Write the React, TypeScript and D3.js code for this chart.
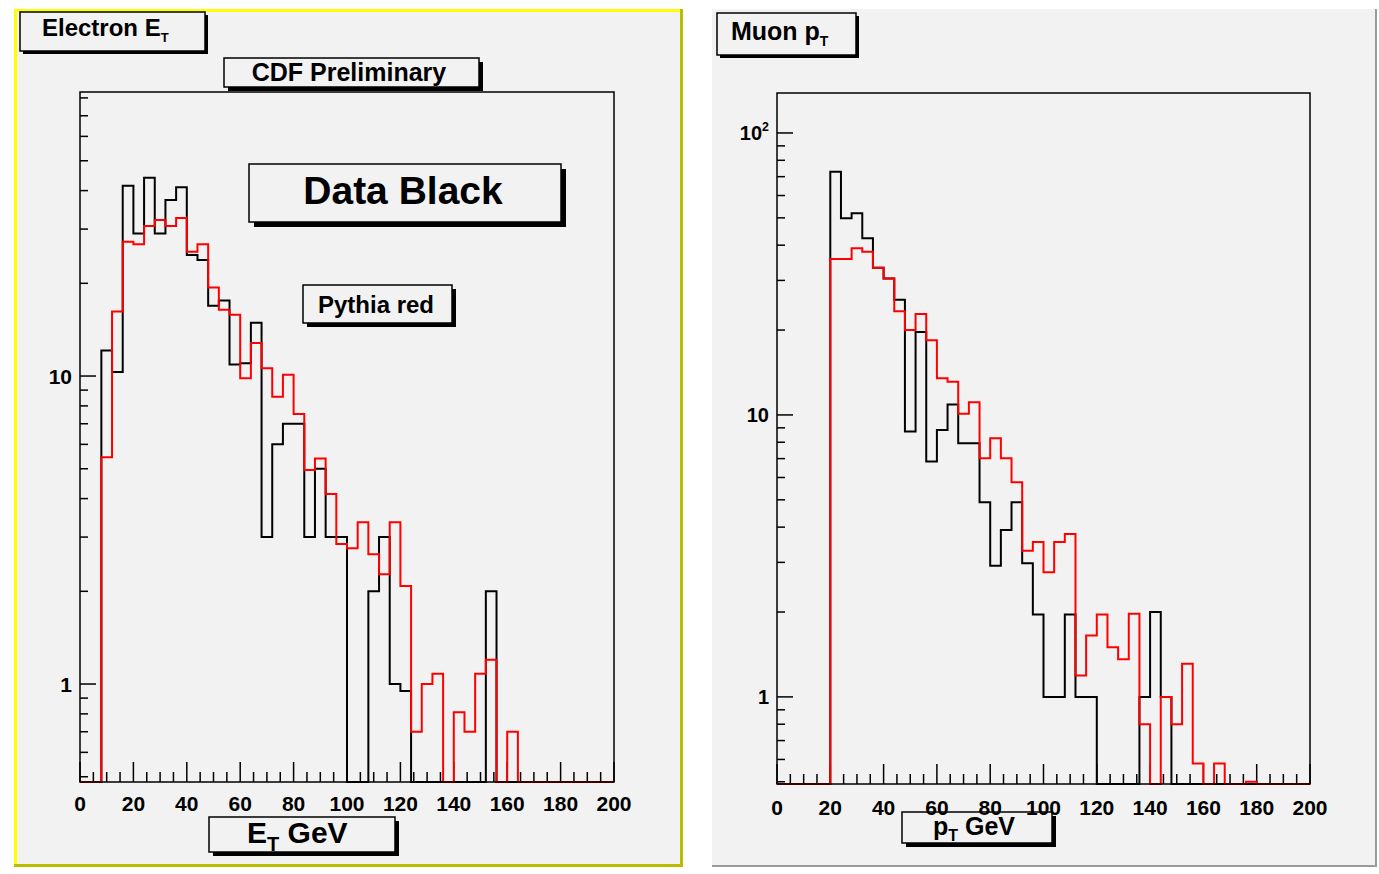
import React from 'react';
import * as d3 from 'd3';

// ---- data: 50 bins of 4 GeV from 0 to 200 ----
const histRange = [0, 200];

const electronData = [
  0, 0, 12.1, 10.3, 41.5, 29, 44, 29, 37.3, 41,
  24.7, 23.8, 16.9, 17.6, 10.9, 11.0, 14.9, 3.0, 6.0, 7.0,
  7.0, 3.0, 5.0, 3.0, 3.0, 0, 0, 2.0, 3.0, 1.0,
  0.95, 0, 0, 0, 0, 0, 0, 0, 2.0, 0,
  0, 0, 0, 0, 0, 0, 0, 0, 0, 0,
];
const electronMC = [
  0, 0, 5.45, 16.2, 27.3, 26.8, 30.7, 32.1, 30.7, 32.6,
  25.3, 26.8, 19.4, 16.4, 15.8, 9.83, 12.8, 10.6, 8.57, 10.1,
  7.53, 4.95, 5.4, 4.14, 2.85, 2.76, 3.35, 2.64, 2.27, 3.35,
  2.08, 0.7, 1.0, 1.08, 0, 0.81, 0.7, 1.08, 1.2, 0,
  0.7, 0, 0, 0, 0, 0, 0, 0, 0, 0,
];
const muonData = [
  0, 0, 0, 0, 0, 72.9, 49.8, 51.9, 42.3, 33.3,
  30.5, 25.6, 8.73, 19.7, 6.83, 8.85, 10.9, 7.94, 7.94, 4.9,
  2.92, 3.91, 4.9, 2.98, 1.96, 1.0, 1.0, 1.96, 1.0, 1.0,
  0, 0, 0, 0, 1.0, 2.0, 1.0, 0, 0, 0,
  0, 0, 0, 0, 0, 0, 0, 0, 0, 0,
];
const muonMC = [
  0, 0, 0, 0, 0, 35.7, 35.7, 39, 37.9, 33.3,
  30.5, 23.3, 20.0, 22.8, 18.4, 13.5, 13.1, 10.1, 11.1, 7.02,
  8.26, 7.02, 5.77, 3.3, 3.54, 2.77, 3.54, 3.78, 1.19, 1.65,
  1.96, 1.5, 1.36, 1.97, 0.8, 0, 1.0, 0.8, 1.31, 0.58,
  0, 0.58, 0, 0, 0.5, 0, 0, 0, 0, 0,
];

const xTickValues = [0, 20, 40, 60, 80, 100, 120, 140, 160, 180, 200];
const xTickLabels = ['0', '20', '40', '60', '80', '100', '120', '140', '160', '180', '200'];
const electronYDomain = [0.4807, 83.6];
const muonYDomain = [0.491, 138.6];
const electronYLabels = [{ v: 1, t: '1' }, { v: 10, t: '10' }];
const muonYLabels = [{ v: 1, t: '1', sup: '' }, { v: 10, t: '10', sup: '' }, { v: 100, t: '10', sup: '2' }];

const FONT = '"Liberation Sans", Arial, Helvetica, sans-serif';

type Frame = { x0: number; x1: number; y0: number; y1: number };

function Histo({ values, x, y, ymin, color }: any) {
  const n = values.length;
  const w = (histRange[1] - histRange[0]) / n;
  const pts: [number, number][] = [];
  values.forEach((v: number, i: number) => {
    const vv = Math.max(v, ymin);
    pts.push([histRange[0] + i * w, vv]);
    pts.push([histRange[0] + (i + 1) * w, vv]);
  });
  const line = d3.line<[number, number]>().x((d) => x(d[0])).y((d) => y(d[1]));
  return <path d={line(pts) || ''} fill="none" stroke={color} strokeWidth={2} strokeLinejoin="miter" />;
}

function Box({ x0, y0, x1, y1, sh = 4 }: any) {
  return (
    <g>
      <rect x={x0 + sh} y={y0 + sh} width={x1 - x0} height={y1 - y0} fill="#000" />
      <rect x={x0} y={y0} width={x1 - x0} height={y1 - y0} fill="#f2f2f2" stroke="#000" strokeWidth={1.5} />
    </g>
  );
}

function Panel({ frame, yDomain, data, mc, yLabels, xLabelBase, yFont, xFont }: any) {
  const f: Frame = frame;
  const x = d3.scaleLinear().domain(histRange).range([f.x0, f.x1]);
  const y = d3.scaleLog().domain(yDomain).range([f.y1, f.y0]);
  const minor: number[] = [];
  for (let k = -1; k <= 2; k++) {
    for (let m = 1; m <= 9; m++) {
      const v = m * Math.pow(10, k);
      if (v >= yDomain[0] && v <= yDomain[1]) minor.push(v);
    }
  }
  const xMinor = d3.range(histRange[0], histRange[1] + 0.01, 5);
  return (
    <g>
      {/* x ticks */}
      {xMinor.map((v) => {
        const major = v % 20 === 0;
        return (
          <line key={'xt' + v} x1={x(v)} x2={x(v)} y1={f.y1} y2={f.y1 - (major ? 20 : 10)} stroke="#000" strokeWidth={1.5} />
        );
      })}
      {/* y ticks */}
      {minor.map((v) => {
        const major = Math.abs(Math.log10(v) - Math.round(Math.log10(v))) < 1e-6;
        return (
          <line key={'yt' + v} x1={f.x0} x2={f.x0 + (major ? 16 : 8)} y1={y(v)} y2={y(v)} stroke="#000" strokeWidth={1.5} />
        );
      })}
      <Histo values={data} x={x} y={y} ymin={yDomain[0]} color="#000" />
      <Histo values={mc} x={x} y={y} ymin={yDomain[0]} color="#ff0000" />
      <rect x={f.x0} y={f.y0} width={f.x1 - f.x0} height={f.y1 - f.y0} fill="none" stroke="#000" strokeWidth={1.5} />
      {xTickValues.map((v, i) => (
        <text key={'xl' + v} x={x(v)} y={xLabelBase} textAnchor="middle" fontFamily={FONT} fontWeight="bold" fontSize={xFont} fill="#000">
          {xTickLabels[i]}
        </text>
      ))}
      {yLabels.map((l: any) => (
        <text key={'yl' + l.v} x={f.x0 - 8} y={y(l.v) + yFont * 0.36} textAnchor="end" fontFamily={FONT} fontWeight="bold" fontSize={yFont} fill="#000">
          {l.t}
          {l.sup ? <tspan fontSize={yFont * 0.62} dy={-yFont * 0.45}>{l.sup}</tspan> : null}
        </text>
      ))}
    </g>
  );
}

export default function App() {
  const leftFrame = { x0: 80, x1: 614, y0: 92, y1: 782 };
  const rightFrame = { x0: 777, x1: 1310, y0: 93, y1: 784 };
  return (
    <svg width={1379} height={874} style={{ position: 'absolute', left: 0, top: 0, display: 'block' }} xmlns="http://www.w3.org/2000/svg">
      <rect x={0} y={0} width={1379} height={874} fill="#ffffff" />
      {/* left pad */}
      <rect x={14} y={9} width={669} height={858} fill="#f2f2f2" />
      <line x1={14} x2={683} y1={10.5} y2={10.5} stroke="#ffff00" strokeWidth={3} />
      <line x1={15.5} x2={15.5} y1={9} y2={867} stroke="#ffff00" strokeWidth={3} />
      <line x1={14} x2={683} y1={865.5} y2={865.5} stroke="#bcbc00" strokeWidth={3} />
      <line x1={681.5} x2={681.5} y1={9} y2={867} stroke="#bcbc00" strokeWidth={3} />
      {/* right pad */}
      <rect x={712} y={9} width={665} height={858} fill="#f2f2f2" />
      <line x1={712} x2={1377} y1={866} y2={866} stroke="#9a9a9a" strokeWidth={2} />
      <line x1={1376} x2={1376} y1={9} y2={867} stroke="#9a9a9a" strokeWidth={2} />

      <Panel frame={leftFrame} yDomain={electronYDomain} data={electronData} mc={electronMC} yLabels={electronYLabels} xLabelBase={811} yFont={21} xFont={21} />

      {/* right panel: axis title box drawn under labels */}
      <Box x0={902} y0={812} x1={1052} y1={843} sh={4} />
      <text x={933} y={835} fontFamily={FONT} fontWeight="bold" fontSize={25} fill="#000">
        p<tspan fontSize={16} dy={6}>T</tspan><tspan dy={-6}> GeV</tspan>
      </text>
      <Panel frame={rightFrame} yDomain={muonYDomain} data={muonData} mc={muonMC} yLabels={muonYLabels} xLabelBase={815} yFont={20} xFont={21} />

      {/* left panel texts */}
      <Box x0={20} y0={12} x1={205} y1={51} sh={3} />
      <text x={42} y={36} fontFamily={FONT} fontWeight="bold" fontSize={24} fill="#000">
        Electron E<tspan fontSize={13} dy={6}>T</tspan>
      </text>
      <Box x0={224} y0={58} x1={479} y1={87} sh={4} />
      <text x={349} y={81} textAnchor="middle" fontFamily={FONT} fontWeight="bold" fontSize={25} fill="#000">CDF Preliminary</text>
      <Box x0={249} y0={164} x1={561} y1={222} sh={5} />
      <text x={403} y={204} textAnchor="middle" fontFamily={FONT} fontWeight="bold" fontSize={39} fill="#000">Data Black</text>
      <Box x0={303} y0={285} x1={452} y1={323} sh={4} />
      <text x={376} y={313} textAnchor="middle" fontFamily={FONT} fontWeight="bold" fontSize={24} fill="#000">Pythia red</text>
      <Box x0={209} y0={817} x1={395} y1={852} sh={4} />
      <text x={247} y={843} fontFamily={FONT} fontWeight="bold" fontSize={30} fill="#000">
        E<tspan fontSize={20} dy={8}>T</tspan><tspan dy={-8}> GeV</tspan>
      </text>

      {/* right panel title */}
      <Box x0={717} y0={13} x1={856} y1={55} sh={3} />
      <text x={731} y={40} fontFamily={FONT} fontWeight="bold" fontSize={25} fill="#000">
        Muon p<tspan fontSize={14} dy={6}>T</tspan>
      </text>
    </svg>
  );
}
